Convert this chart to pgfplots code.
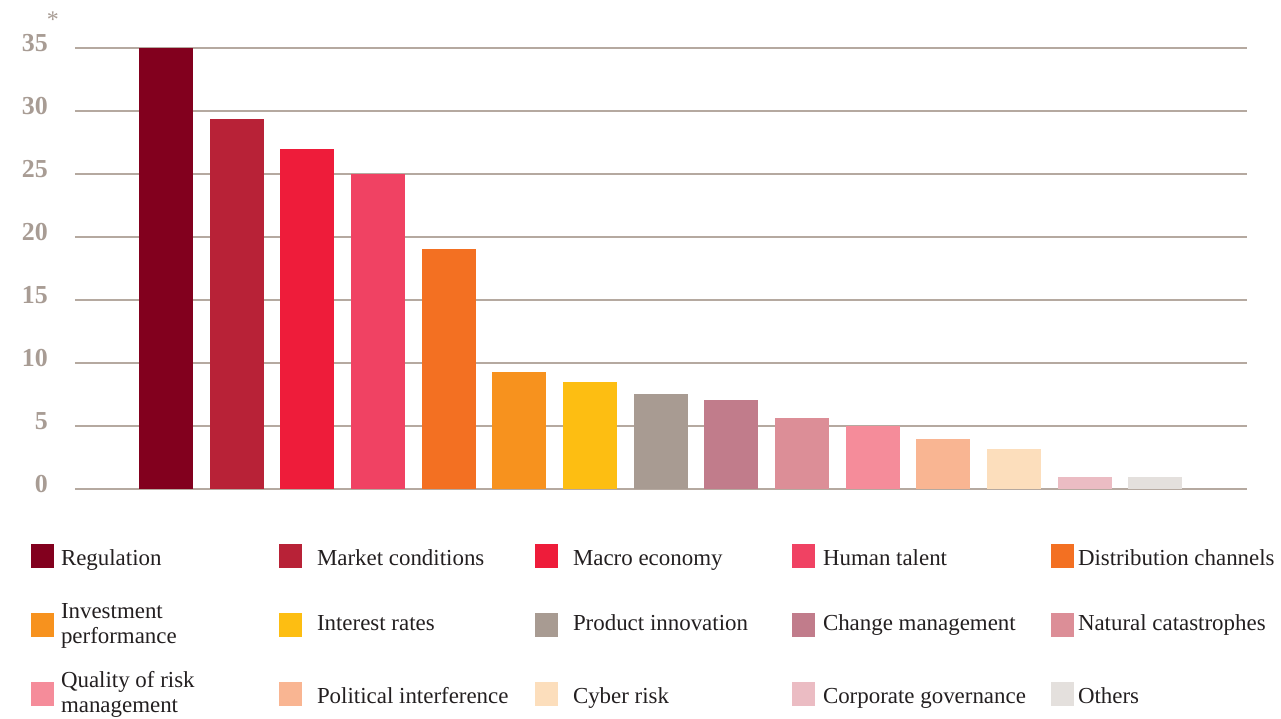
\documentclass[border=0pt]{standalone}
\usepackage{fontspec}
\setmainfont{Liberation Serif}
\usepackage{pgfplots}
\pgfplotsset{compat=1.18}
\definecolor{c1}{RGB}{130,0,30}
\definecolor{c2}{RGB}{184,34,55}
\definecolor{c3}{RGB}{238,28,58}
\definecolor{c4}{RGB}{240,66,99}
\definecolor{c5}{RGB}{243,112,34}
\definecolor{c6}{RGB}{247,146,30}
\definecolor{c7}{RGB}{253,190,18}
\definecolor{c8}{RGB}{168,155,146}
\definecolor{c9}{RGB}{193,124,139}
\definecolor{c10}{RGB}{220,142,151}
\definecolor{c11}{RGB}{245,140,154}
\definecolor{c12}{RGB}{249,181,146}
\definecolor{c13}{RGB}{252,222,188}
\definecolor{c14}{RGB}{235,188,195}
\definecolor{c15}{RGB}{228,224,221}
\definecolor{tickc}{RGB}{168,156,148}
\definecolor{gridc}{RGB}{181,169,160}
\definecolor{legc}{RGB}{35,31,32}
\newcommand{\LE}[3]{\hspace*{#2}\parbox[c]{#1}{\raggedright\strut #3\strut}}
\newcommand{\LS}[3]{\hspace*{#2}\raisebox{-4bp}{\parbox[c]{#1}{\raggedright\strut #3\strut}}}
\pgfplotsset{mybar/.style={ybar, bar width=54bp, bar shift=0pt, fill=#1, draw=none,
  legend image code/.code={\fill[#1] (0bp,-4.5bp) rectangle (23bp,18.5bp); \path (30bp,0bp);}}}
\begin{document}
\begin{tikzpicture}
\useasboundingbox (-75bp,-230bp) rectangle (1206bp,489bp);
\begin{axis}[
  at={(0,0)}, anchor=south west,
  scale only axis, width=1172bp, height=441bp,
  xmin=-1.288, xmax=15.30, ymin=0, ymax=35,
  ytick={0,5,...,35}, xtick=\empty,
  ymajorgrids, major grid style={color=gridc, line width=1.3bp},
  axis line style={draw=none},
  major tick length=0pt,
  /pgf/number format/assume math mode=true,
  yticklabel style={anchor=east, inner sep=0pt, xshift=-27bp, yshift=5bp, text=tickc, font=\fontsize{26}{30}\selectfont\bfseries},
  clip=false,
  legend columns=5, legend cell align=left,
  legend style={at={(-0.03754,-0.1111)}, anchor=north west, draw=none, fill=none,
    inner sep=0pt, outer sep=0pt, row sep=19bp, column sep=0pt,
    nodes={inner sep=0pt, text height=25bp, text depth=25bp, font=\fontsize{23}{26}\selectfont, text=legc}},
]
\addplot[mybar=c1] coordinates {(0,35)};
\addlegendentry{\LS{218bp}{0bp}{Regulation}}
\addplot[mybar=c2] coordinates {(1,29.35)};
\addlegendentry{\LS{218bp}{8bp}{Market conditions}}
\addplot[mybar=c3] coordinates {(2,27)};
\addlegendentry{\LS{219bp}{8bp}{Macro economy}}
\addplot[mybar=c4] coordinates {(3,25)};
\addlegendentry{\LS{228bp}{1bp}{Human talent}}
\addplot[mybar=c5] coordinates {(4,19.05)};
\addlegendentry{\LS{205bp}{-3bp}{Distribution channels}}
\addplot[mybar=c6] coordinates {(5,9.3)};
\addlegendentry{\LE{218bp}{0bp}{Investment\\performance}}
\addplot[mybar=c7] coordinates {(6,8.5)};
\addlegendentry{\LE{218bp}{8bp}{Interest rates}}
\addplot[mybar=c8] coordinates {(7,7.55)};
\addlegendentry{\LE{219bp}{8bp}{Product innovation}}
\addplot[mybar=c9] coordinates {(8,7.05)};
\addlegendentry{\LE{228bp}{1bp}{Change management}}
\addplot[mybar=c10] coordinates {(9,5.65)};
\addlegendentry{\LE{205bp}{-3bp}{Natural catastrophes}}
\addplot[mybar=c11] coordinates {(10,5)};
\addlegendentry{\LE{218bp}{0bp}{Quality of risk\\management}}
\addplot[mybar=c12] coordinates {(11,3.95)};
\addlegendentry{\LS{218bp}{8bp}{Political interference}}
\addplot[mybar=c13] coordinates {(12,3.2)};
\addlegendentry{\LS{219bp}{8bp}{Cyber risk}}
\addplot[mybar=c14] coordinates {(13,0.95)};
\addlegendentry{\LS{228bp}{1bp}{Corporate governance}}
\addplot[mybar=c15] coordinates {(14,0.95)};
\addlegendentry{\LS{205bp}{-3bp}{Others}}
\node[text=tickc, font=\fontsize{24}{28}\selectfont, inner sep=0pt] at (axis description cs:-0.0188,1.0635) {*};
\end{axis}
\end{tikzpicture}
\end{document}
